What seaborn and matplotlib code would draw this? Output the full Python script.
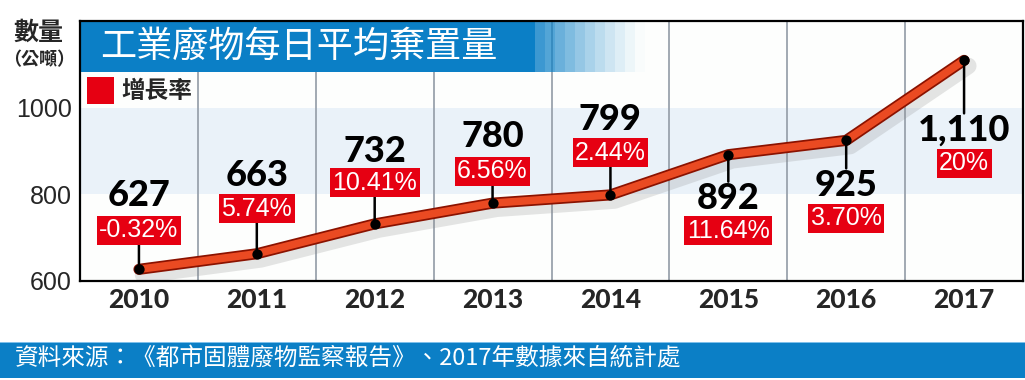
import matplotlib
matplotlib.use('Agg')
import matplotlib.pyplot as plt
import matplotlib.patheffects as pe
from matplotlib.patches import Rectangle
import seaborn as sns
import pandas as pd

# ---------------- data ----------------
years = ['2010', '2011', '2012', '2013', '2014', '2015', '2016', '2017']
values = [627, 663, 732, 780, 799, 892, 925, 1110]
value_labels = ['627', '663', '732', '780', '799', '892', '925', '1,110']
growth_labels = ['-0.32%', '5.74%', '10.41%', '6.56%', '2.44%', '11.64%', '3.70%', '20%']
y_ticks = [600, 800, 1000]
title = '工業廢物每日平均棄置量'
y_unit_1 = '數量'
y_unit_2 = '（公噸）'
legend_label = '增長率'
source = '資料來源：《都市固體廢物監察報告》、2017年數據來自統計處'

# ---------------- layout (pixel offsets from each point) ----------------
num_off = [74, 78, 72, 67, 75, -44, -45, -70]
box_off = [39, 45, 41, 32, 42, -76, -78, -103]

sns.set_style('white')
plt.rcParams['font.family'] = ['Noto Sans CJK TC', 'DejaVu Sans']

BLUE = '#0b7fc6'
RED = '#e60012'
W, H = 1025, 380

fig = plt.figure(figsize=(W / 100, H / 100), dpi=100)
fig.patch.set_facecolor('white')
AX_L, AX_R, AX_T, AX_B = 80, 1023, 21, 281
ax = fig.add_axes([AX_L / W, 1 - AX_B / H, (AX_R - AX_L) / W, (AX_B - AX_T) / H])
ax.set_facecolor('#fdfefd')


def ax_x(px):
    return (px - AX_L) / (AX_R - AX_L)


def ax_y(py):
    return (AX_B - py) / (AX_B - AX_T)


df = pd.DataFrame({'year': years, 'value': values})

# light band 800-1000
ax.axhspan(800, 1000, color='#eaf2f9', zorder=0, lw=0)
# vertical separators
for i in range(len(years) - 1):
    ax.axvline(i + 0.5, color='#9aa3ad', lw=1.3, zorder=1)

# title band (solid + stepped fade)
ax.add_patch(Rectangle((0, ax_y(72)), ax_x(535), ax_y(AX_T) - ax_y(72),
                       transform=ax.transAxes, color=BLUE, lw=0, zorder=2))
steps = 11
x0, x1 = 535, 645
for s in range(steps):
    a = 0.85 * (1 - (s + 0.5) / steps) ** 1.3
    xa = x0 + (x1 - x0) * s / steps
    ax.add_patch(Rectangle((ax_x(xa), ax_y(72)), ax_x(xa + (x1 - x0) / steps) - ax_x(xa),
                           ax_y(AX_T) - ax_y(72), transform=ax.transAxes,
                           color=BLUE, alpha=a, lw=0, zorder=2))

# the thick line
sns.lineplot(data=df, x='year', y='value', ax=ax, sort=False, color='#ea4a22',
             lw=5.5, zorder=4, solid_capstyle='round',
             path_effects=[pe.SimpleLineShadow(offset=(3, -4), shadow_color='#888888', alpha=0.22, linewidth=12),
                           pe.Stroke(linewidth=8, foreground='#8a1200'),
                           pe.Normal()])
ax.lines[-1].set_solid_capstyle('round')
sns.scatterplot(data=df, x='year', y='value', ax=ax, color='black', s=55,
                linewidth=0, zorder=6)

# labels
for i, (v, vl, gl) in enumerate(zip(values, value_labels, growth_labels)):
    nb, bb = num_off[i], box_off[i]
    if bb > 0:
        conn = bb - 13
    else:
        conn = nb + 17
    ax.annotate('', xy=(i, v), xytext=(0, conn), textcoords='offset pixels',
                arrowprops=dict(arrowstyle='-', lw=1.8, color='black', shrinkA=0, shrinkB=0),
                zorder=5)
    ax.annotate(vl, xy=(i, v), xytext=(0, nb), textcoords='offset pixels',
                ha='center', va='center', fontsize=26, fontweight='black',
                family='Lato', color='black', zorder=7)
    ax.annotate(gl, xy=(i, v), xytext=(0, bb), textcoords='offset pixels',
                ha='center', va='center', fontsize=18, family='Liberation Sans',
                color='white', zorder=7,
                bbox=dict(boxstyle='square,pad=0.1', fc=RED, ec='none'))

ax.set_xlim(-0.5, len(years) - 0.5)
ax.set_ylim(600, 1201)
ax.set_yticks(y_ticks)
ax.set_yticklabels([str(t) for t in y_ticks], family='Liberation Sans', fontsize=18)
ax.set_xticks(range(len(years)))
ax.set_xticklabels(years, family='Lato', fontweight='black', fontsize=19)
ax.tick_params(axis='both', length=0)
ax.tick_params(axis='y', pad=6)
ax.tick_params(axis='x', pad=5)
ax.set_xlabel('')
ax.set_ylabel('')
for sp in ax.spines.values():
    sp.set_visible(True)
    sp.set_color('black')
    sp.set_linewidth(1.6)
    sp.set_zorder(8)

# title
fig.text(100 / W, 1 - 47 / H, title, color='white', fontsize=26, ha='left', va='center')

# unit label
fig.text(38 / W, 1 - 33 / H, y_unit_1, fontsize=18, ha='center', va='center', fontweight='bold')
fig.text(39 / W, 1 - 60 / H, y_unit_2, fontsize=13, ha='center', va='center', fontweight='bold')

# legend
fig.add_artist(Rectangle((87 / W, 1 - 104 / H), 27 / W, 27 / H, color=RED, lw=0,
                         transform=fig.transFigure, zorder=9))
fig.text(121 / W, 1 - 91 / H, legend_label, fontsize=17, ha='left', va='center',
         fontweight='bold', zorder=9)

# source bar
fig.add_artist(Rectangle((0, 1 - 378 / H), 1, 36 / H, color=BLUE, lw=0,
                         transform=fig.transFigure, zorder=1))
fig.add_artist(Rectangle((0, 1 - 343 / H), 1, 1.5 / H, color='#7fc0ea', lw=0,
                         transform=fig.transFigure, zorder=1))
fig.text(15 / W, 1 - 359 / H, source, color='white', fontsize=17, ha='left',
         va='center', fontweight='light', zorder=2)

fig.savefig('out.png', dpi=100, facecolor='white')
